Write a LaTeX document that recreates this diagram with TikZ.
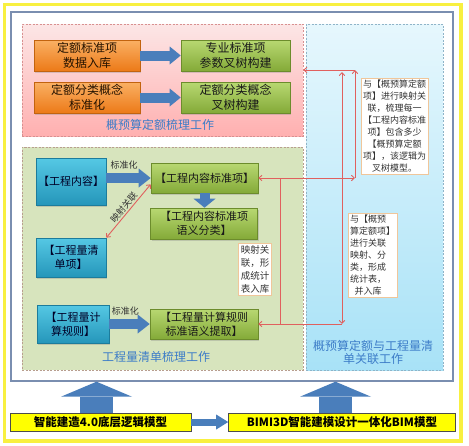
\documentclass[tikz,border=0pt]{standalone}
\usepackage{fontspec}
\newfontfamily\cjk{Noto Sans CJK SC}
\usetikzlibrary{arrows.meta,shadows,calc}
\definecolor{orT}{HTML}{FAB064}
\definecolor{orB}{HTML}{EC7A18}
\definecolor{orD}{HTML}{C2630E}
\definecolor{grT}{HTML}{B8D872}
\definecolor{grB}{HTML}{84AA38}
\definecolor{grD}{HTML}{6C8C2C}
\definecolor{cyT}{HTML}{55C8E4}
\definecolor{cyB}{HTML}{2596BA}
\definecolor{cyD}{HTML}{1C7C9C}
\definecolor{pkT}{HTML}{FCE6E6}
\definecolor{pkB}{HTML}{FFB0B0}
\definecolor{pkD}{HTML}{D89090}
\definecolor{blT}{HTML}{E6F7FD}
\definecolor{blB}{HTML}{A8E2F7}
\definecolor{blD}{HTML}{8FB4C8}
\definecolor{gnF}{HTML}{D7E4BD}
\definecolor{gnD}{HTML}{B89E8E}
\definecolor{arB}{HTML}{4A7EBB}
\definecolor{redL}{HTML}{E0605E}
\definecolor{ttl}{HTML}{3C7CC8}
\definecolor{frm}{HTML}{7A8EB0}
\definecolor{tbD}{HTML}{F0C69A}
\definecolor{yel}{HTML}{FFFF00}
\definecolor{yelB}{HTML}{F8F040}
\begin{document}
\begin{tikzpicture}[x=1pt,y=-1pt,
  box/.style={inner sep=0pt, align=center, line width=0.6pt,
    drop shadow={opacity=0.3, shadow xshift=1.2pt, shadow yshift=-1.5pt}},
  orbox/.style={box, draw=orD, top color=orT, bottom color=orB, text=black!85!orange,
    minimum width=106pt, minimum height=31pt, font=\cjk\fontsize{12}{15}\selectfont},
  grbox/.style={box, draw=grD, top color=grT, bottom color=grB, text=black!90,
    minimum height=31pt, font=\cjk\fontsize{12}{15}\selectfont},
  gkbox/.style={grbox, minimum width=107pt, minimum height=30pt, font=\cjk\fontsize{11}{14}\selectfont},
  cybox/.style={box, draw=cyD, top color=cyT, bottom color=cyB, text=black!85!blue,
    minimum width=70pt, font=\cjk\fontsize{11}{14}\selectfont},
  region/.style={inner sep=0pt, line width=0.6pt, dash pattern=on 2pt off 1.5pt},
  title/.style={text=ttl, font=\cjk\fontsize{12}{14}\selectfont, align=center, inner sep=0pt},
  tbox/.style={draw=tbD, fill=white, line width=0.8pt, inner sep=2pt, text=black!80,
    font=\cjk\fontsize{9}{12}\selectfont},
  ybox/.style={draw=black!70, fill=yel, line width=0.6pt, inner sep=0pt, minimum height=18pt,
    font=\cjk\bfseries\fontsize{11.5}{13}\selectfont},
  barrow/.style={draw=arB, line width=#1},
  redl/.style={draw=redL, line width=0.9pt, >={Straight Barb[length=3pt,width=5.5pt]}},
  lbl/.style={font=\cjk\fontsize{9}{10}\selectfont, text=black!80, inner sep=1pt}
]
\useasboundingbox (0,0) rectangle (469,445);
\fill[white] (0,0) rectangle (469,445);
% outer yellow border
\draw[yelB, line width=3.2pt] (4.5,4.5) rectangle (461,441);
% inner frame
\node[draw=frm, line width=1.4pt, fill=white, minimum width=442pt, minimum height=369pt, inner sep=0pt] (frame) at (232,196.5) {};
% regions
\node[region, draw=pkD, top color=pkT, bottom color=pkB, minimum width=281pt, minimum height=112pt] (pink) at (162.5,80) {};
\node[region, draw=blD, top color=blT, bottom color=blB, minimum width=137pt, minimum height=346pt] (blue) at (374.5,197) {};
\node[region, draw=gnD, fill=gnF, minimum width=281pt, minimum height=223pt] (green) at (162.5,258.5) {};
% titles
\node[title] (tp) at (160,125) {概预算定额梳理工作};
\node[title] (tg) at (156,357) {工程量清单梳理工作};
\node[title, font=\cjk\fontsize{12}{13}\selectfont] (tb) at (373,352.5) {概预算定额与工程量清\\单关联工作};
% pink boxes
\node[orbox] (o1) at (87,55.5) {定额标准项\\数据入库};
\node[orbox] (o2) at (87,97.5) {定额分类概念\\标准化};
\node[grbox, minimum width=109pt] (g1) at (235.5,55.5) {专业标准项\\参数叉树构建};
\node[grbox, minimum width=109pt] (g2) at (235.5,97.5) {定额分类概念\\叉树构建};
\draw[barrow=10pt, -{Triangle[width=18pt,length=11pt,line width=0pt]}] (o1.east) -- (g1.west);
\draw[barrow=10pt, -{Triangle[width=18pt,length=11pt,line width=0pt]}] (o2.east) -- (g2.west);
% green region boxes
\node[cybox, minimum height=47pt] (c1) at (71,181.5) {【工程内容】};
\node[gkbox] (k1) at (204.5,178) {【工程内容标准项】};
\node[gkbox, minimum height=31pt] (k2) at (204,223.5) {【工程内容标准项\\语义分类】};
\node[cybox, minimum height=39pt] (c2) at (71,257.5) {【工程量清\\单项】};
\node[cybox, minimum width=72pt, minimum height=38pt] (c3) at (73,324) {【工程量计\\算规则】};
\node[gkbox, minimum width=108pt] (k3) at (204,324) {【工程量计算规则\\标准语义提取】};
\draw[barrow=10pt, -{Triangle[width=19pt,length=12pt,line width=0pt]}] (c1.east |- k1.west) -- node[lbl, above=3pt, pos=0.4] {标准化} (k1.west);
\draw[barrow=10pt, -{Triangle[width=19pt,length=12pt,line width=0pt]}] (c3.east |- k3.west) -- node[lbl, above=3pt, pos=0.4] {标准化} (k3.west);
\draw[barrow=10pt, -{Triangle[width=22pt,length=9pt,line width=0pt]}] (k1.south) -- (k1.south |- k2.north);
\draw[redl, <->] (c2.north east) -- node[lbl, sloped, above=0.5pt] {映射关联} ([yshift=9pt]k1.south west);
% text boxes
\node[tbox, align=center] (t1) at (394.5,126.5) {与【概预算定额\\项】进行映射关\\联，梳理每一\\【工程内容标准\\项】包含多少\\【概预算定额\\项】，该逻辑为\\叉树模型。};
\node[tbox, align=left] (t2) at (372.5,255.5) {与【概预\\算定额项】\\进行关联\\映射、分\\类，形成\\统计表，\\\hspace*{0.5em}并入库};
\node[tbox, align=center, font=\cjk\fontsize{9.5}{13}\selectfont] (t3) at (255,269) {映射关\\联，形\\成统计\\表入库};
% red connectors
\coordinate (ra) at (355,70);
\coordinate (rb) at (342,72);
\coordinate (rj) at (280,0);
\draw[redl, <->] (k1.east) -- (k1.east -| ra);
\draw[redl, ->] (k1.east -| ra) -- (ra);
\draw[redl, ->] (ra) -- (ra -| pink.east);
\draw[redl, <-] (k3.east) -- (k3.east -| rb);
\draw[redl, <->] (k3.east -| rb) -- (rb);
\draw[redl] (k1.east -| rj) -- (k3.east -| rj);
% bottom
\node[ybox, minimum width=181pt] (y1) at (100.5,422) {智能建造4.0底层逻辑模型};
\node[ybox, minimum width=227pt] (y2) at (342,422) {BIMI3D智能建模设计一体化BIM模型};
\draw[barrow=7pt, -{Triangle[width=15pt,length=12pt,line width=0pt]}] (y1.east) -- (y2.west);
\coordinate (ax1) at (96.5,0);
\coordinate (ax2) at (335.5,0);
\draw[barrow=33pt, -{Triangle[width=71pt,length=15pt,line width=0pt]}] (ax1 |- y1.north) -- (ax1 |- frame.south);
\draw[barrow=33pt, -{Triangle[width=71pt,length=15pt,line width=0pt]}] (ax2 |- y2.north) -- (ax2 |- frame.south);
\end{tikzpicture}
\end{document}
